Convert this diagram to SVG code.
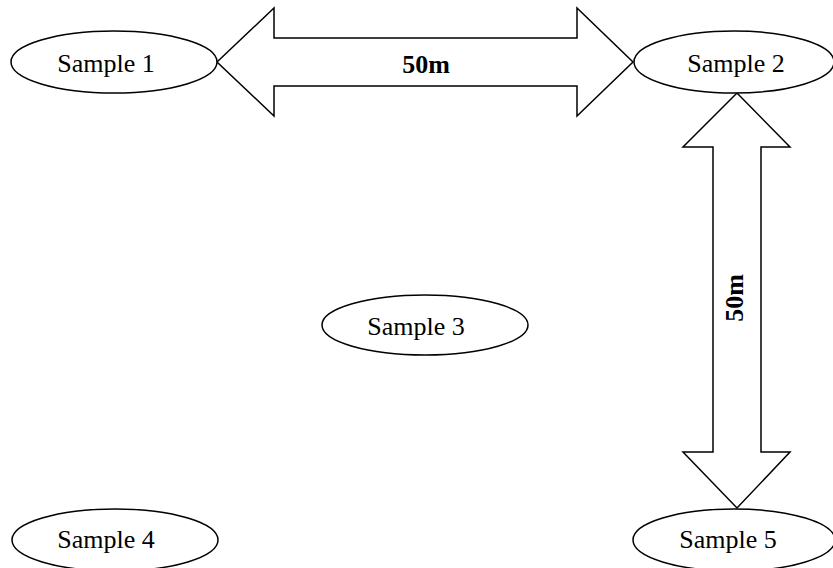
<svg xmlns="http://www.w3.org/2000/svg" width="833" height="568" viewBox="0 0 833 568">
<style>
.node ellipse{fill:#fff;stroke:#000;stroke-width:1.5}
.node text{font-family:"Liberation Serif","Times New Roman",serif;font-size:26px;fill:#000;text-anchor:middle}
.arrow{fill:#fff;stroke:#000;stroke-width:1.5;stroke-linejoin:miter}
.lbl{font-family:"Liberation Serif","Times New Roman",serif;font-size:26px;font-weight:bold;fill:#000;text-anchor:middle}
</style>
<rect width="833" height="568" fill="#fff"/>
<g id="connectors">
<polygon class="arrow" points="217,62 274,8 274,38 577,38 577,8 633,62 577,116 577,86 274,86 274,116"/>
<text class="lbl" x="426" y="73">50m</text>
<polygon class="arrow" points="737,93 790,147 761,147 761,452 790,452 737,508 683,452 713,452 713,147 683,147"/>
<text class="lbl" transform="translate(743,298) rotate(-90)" x="0" y="0">50m</text>
</g>
<g id="sample1" class="node"><ellipse cx="114" cy="62" rx="103" ry="31"/><text x="106" y="72">Sample 1</text></g>
<g id="sample2" class="node"><ellipse cx="734" cy="62" rx="100" ry="31"/><text x="736" y="72">Sample 2</text></g>
<g id="sample3" class="node"><ellipse cx="425" cy="325" rx="103" ry="30"/><text x="416" y="335">Sample 3</text></g>
<g id="sample4" class="node"><ellipse cx="115" cy="540" rx="103" ry="31"/><text x="106" y="548">Sample 4</text></g>
<g id="sample5" class="node"><ellipse cx="734" cy="540" rx="101" ry="31"/><text x="728" y="548">Sample 5</text></g>
</svg>
